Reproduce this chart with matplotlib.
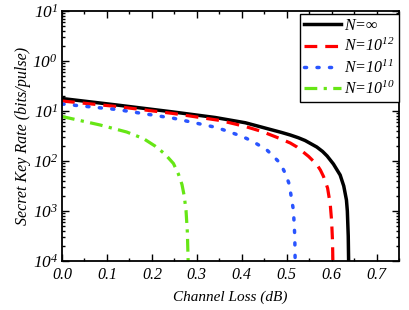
import matplotlib
matplotlib.use("Agg")
import matplotlib.pyplot as plt
import numpy as np
from matplotlib.ticker import MultipleLocator, FixedLocator, FixedFormatter, LogLocator, NullFormatter

plt.rcParams['font.family'] = 'serif'
plt.rcParams['font.serif'] = ['Liberation Serif', 'DejaVu Serif']
plt.rcParams['font.style'] = 'italic'
plt.rcParams['mathtext.fontset'] = 'custom'
plt.rcParams['mathtext.rm'] = 'Liberation Serif:italic'
plt.rcParams['mathtext.it'] = 'Liberation Serif:italic'

# data: channel loss (dB) and log10 of key rate (bits/pulse)
loss_inf = [0.000, 0.122, 0.248, 0.341, 0.408, 0.489, 0.508, 0.526, 0.541, 0.567, 0.580, 0.590,
            0.604, 0.619, 0.627, 0.633, 0.635, 0.637, 0.638]
lograte_inf = [-0.75, -0.88, -1.02, -1.13, -1.235, -1.43, -1.48, -1.535, -1.59, -1.72, -1.81, -1.90,
               -2.06, -2.28, -2.50, -2.78, -3.0, -3.5, -4.1]

loss_12 = [0.000, 0.122, 0.248, 0.352, 0.385, 0.408, 0.445, 0.482, 0.508, 0.523, 0.549, 0.567,
           0.575, 0.582, 0.591, 0.597, 0.600, 0.602, 0.603]
lograte_12 = [-0.80, -0.91, -1.05, -1.19, -1.26, -1.31, -1.41, -1.54, -1.64, -1.72, -1.91, -2.07,
              -2.18, -2.31, -2.54, -2.87, -3.2, -3.6, -4.1]

loss_11 = [0.000, 0.122, 0.248, 0.344, 0.367, 0.389, 0.411, 0.434, 0.456, 0.471, 0.486, 0.497,
           0.506, 0.511, 0.515, 0.518, 0.519]
lograte_11 = [-0.86, -0.97, -1.145, -1.33, -1.40, -1.47, -1.55, -1.66, -1.78, -1.91, -2.05, -2.25,
              -2.47, -2.77, -2.98, -3.5, -4.1]

loss_10 = [0.000, 0.040, 0.085, 0.144, 0.181, 0.207, 0.229, 0.248, 0.259, 0.267, 0.272, 0.276,
           0.279, 0.281]
lograte_10 = [-1.11, -1.19, -1.28, -1.42, -1.55, -1.70, -1.86, -2.05, -2.26, -2.47, -2.70, -2.99,
              -3.43, -4.1]

labels = [r'$\mathit{N}$=$\infty$', r'$\mathit{N}$=$\mathit{10^{12}}$',
          r'$\mathit{N}$=$\mathit{10^{11}}$', r'$\mathit{N}$=$\mathit{10^{10}}$']

# y tick labels as printed in the reference
ytick_vals = [1e1, 1e0, 1e-1, 1e-2, 1e-3, 1e-4]
ytick_text = [r'$\mathit{10^{1}}$', r'$\mathit{10^{0}}$', r'$\mathit{10^{1}}$',
              r'$\mathit{10^{2}}$', r'$\mathit{10^{3}}$', r'$\mathit{10^{4}}$']
xtick_vals = [0.0, 0.1, 0.2, 0.3, 0.4, 0.5, 0.6, 0.7]
xtick_text = ['0.0', '0.1', '0.2', '0.3', '0.4', '0.5', '0.6', '0.7']

fig = plt.figure(figsize=(4.09, 3.10), dpi=100)
ax = fig.add_axes([0.1516, 0.158, 0.8240, 0.8065])

ax.plot(loss_inf, 10 ** np.array(lograte_inf), color='black', lw=2.5, ls='-', label=labels[0])
ax.plot(loss_12, 10 ** np.array(lograte_12), color='#ff0000', lw=2.3, ls=(0, (4, 2.5)), label=labels[1])
ax.plot(loss_11, 10 ** np.array(lograte_11), color='#2a55ff', lw=2.5, ls=(0, (0.6, 3.0)),
        dash_capstyle='round', label=labels[2])
ax.plot(loss_10, 10 ** np.array(lograte_10), color='#66e615', lw=2.3, ls=(0, (4, 2, 1, 2)), label=labels[3])

ax.set_yscale('log')
ax.set_xlim(0, 0.75)
ax.set_ylim(1e-4, 1e1)

ax.xaxis.set_major_locator(FixedLocator(xtick_vals))
ax.xaxis.set_major_formatter(FixedFormatter(xtick_text))
ax.xaxis.set_minor_locator(MultipleLocator(0.05))
ax.yaxis.set_major_locator(FixedLocator(ytick_vals))
ax.yaxis.set_major_formatter(FixedFormatter(ytick_text))
ax.yaxis.set_minor_locator(LogLocator(base=10, subs=range(2, 10), numticks=20))
ax.yaxis.set_minor_formatter(NullFormatter())

ax.tick_params(which='both', direction='in', top=True, right=True, width=1.0)
ax.tick_params(which='major', length=5)
ax.tick_params(which='minor', length=2.5)
ax.tick_params(axis='x', labelsize=11.5, pad=4)
ax.tick_params(axis='y', labelsize=12.5, pad=3)
for lbl in ax.get_xticklabels() + ax.get_yticklabels():
    lbl.set_fontstyle('italic')
for s in ax.spines.values():
    s.set_linewidth(1.3)

ax.set_xlabel('Channel Loss (dB)', fontsize=11, labelpad=6)
ax.set_ylabel('Secret Key Rate (bits/pulse)', fontsize=11.5, labelpad=1)

leg = ax.legend(loc='upper right', bbox_to_anchor=(1.0, 0.988), fontsize=11.5,
                handlelength=2.3, handletextpad=0.2, labelspacing=0.25,
                borderpad=0.25, borderaxespad=0, fancybox=False, framealpha=1)
leg.get_frame().set_edgecolor('black')
leg.get_frame().set_linewidth(1.0)

fig.savefig('out.png', dpi=100)
